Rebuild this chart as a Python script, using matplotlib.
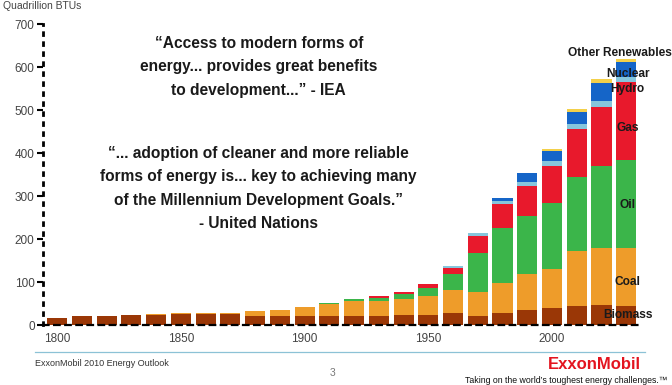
import matplotlib.pyplot as plt
import numpy as np

# Consumo mundial de energia por fonte (quadrilhoes de BTU), 1800-2030
anos = list(range(1800, 2031, 10))
biomassa = [17, 20, 21, 23, 24, 25, 25, 25, 22, 20, 20, 21, 22, 22, 23, 23, 28, 22, 28, 34, 39, 45, 47, 45]
carvao = [0, 0, 1, 1, 2, 2, 3, 4, 10, 16, 21, 29, 33, 34, 38, 44, 53, 54, 69, 84, 91, 128, 131, 133]
petroleo = [0, 0, 0, 0, 0, 0, 0, 0, 0, 0, 0, 2, 5, 7, 10, 18, 37, 91, 128, 135, 153, 172, 192, 206]
gas = [0, 0, 0, 0, 0, 0, 0, 0, 0, 0, 0, 0, 0, 5, 5, 10, 14, 41, 56, 71, 87, 112, 138, 182]
hidro = [0, 0, 0, 0, 0, 0, 0, 0, 0, 0, 0, 0, 0, 0, 0, 1, 5, 5, 7, 9, 12, 10, 14, 11]
nuclear = [0, 0, 0, 0, 0, 0, 0, 0, 0, 0, 0, 0, 0, 0, 0, 0, 0, 2, 8, 20, 23, 29, 40, 35]
outras = [0, 0, 0, 0, 0, 0, 0, 0, 0, 0, 0, 0, 0, 0, 0, 0, 0, 0, 0, 1, 5, 6, 9, 6]

fontes = [biomassa, carvao, petroleo, gas, hidro, nuclear, outras]
cores = ['#9a3706', '#ee9c2a', '#3bb54a', '#e8192c', '#86c6dc', '#1565c8', '#f3d04a']

plt.rcParams['font.family'] = ['Liberation Sans', 'DejaVu Sans']

fig = plt.figure(figsize=(6.72, 3.85), dpi=100)
ax = fig.add_axes([0.064, 0.1558, 0.89, 0.7818])

base = np.zeros(len(anos))
for valores, cor in zip(fontes, cores):
    ax.bar(anos, valores, width=8.1, bottom=base, color=cor, edgecolor='none')
    base += np.array(valores)

ax.set_xlim(1794.3, 2036)
ax.set_ylim(0, 700)
ax.set_yticks(range(0, 701, 100))
ax.set_xticks([1800, 1850, 1900, 1950, 2000])
ax.tick_params(axis='y', length=4, width=1.5, color='black', labelsize=8.5, labelcolor='#444', pad=2)
ax.tick_params(axis='x', length=0, labelsize=8.5, labelcolor='#444', pad=6)

for lado in ['top', 'right']:
    ax.spines[lado].set_visible(False)
ax.spines['left'].set_linestyle((0, (1, 2.6)))
ax.spines['left'].set_linewidth(2.0)
ax.spines['bottom'].set_linestyle((0, (2.5, 2.5)))
ax.spines['bottom'].set_linewidth(1.6)

# rotulos das fontes a direita
rotulos = {'Other Renewables': (2027.3, 632), 'Nuclear': (2030.6, 584),
           'Hydro': (2030.6, 549), 'Gas': (2030.6, 459), 'Oil': (2030.6, 280),
           'Coal': (2030.6, 99), 'Biomass': (2030.6, 24)}
for txt, (x, y) in rotulos.items():
    ax.text(x, y, txt, ha='center', va='center', fontsize=8.6, fontweight='bold', color='#1a1a1a')

# citacoes
citacao1 = '\u201cAccess to modern forms of\nenergy... provides great benefits\nto development...\u201d - IEA'
citacao2 = ('\u201c... adoption of cleaner and more reliable\nforms of energy is... key to achieving many\n'
            'of the Millennium Development Goals.\u201d\n- United Nations')
fig.text(0.385, 0.907, citacao1, ha='center', va='top', fontsize=11.2, fontweight='bold',
         color='#1a1a1a', linespacing=1.72)
fig.text(0.385, 0.622, citacao2, ha='center', va='top', fontsize=11.2, fontweight='bold',
         color='#1a1a1a', linespacing=1.72)

fig.text(0.005, 0.984, 'Quadrillion BTUs', ha='left', va='center', fontsize=7.5, color='#444')

# rodape
fig.add_artist(plt.Line2D([0.052, 0.96], [0.085, 0.085], color='#8cc2d6', linewidth=0.9))
fig.text(0.052, 0.055, 'ExxonMobil 2010 Energy Outlook', ha='left', va='center', fontsize=6.5, color='#333')
fig.text(0.495, 0.03, '3', ha='center', va='center', fontsize=7.5, color='#777')
fig.text(0.954, 0.052, 'ExxonMobil', ha='right', va='center', fontsize=12, fontweight='bold', color='#e3141f')
fig.text(0.993, 0.012, 'Taking on the world\u2019s toughest energy challenges.\u2122', ha='right', va='center',
         fontsize=6.3, color='#111')

fig.savefig('out.png', dpi=100)
